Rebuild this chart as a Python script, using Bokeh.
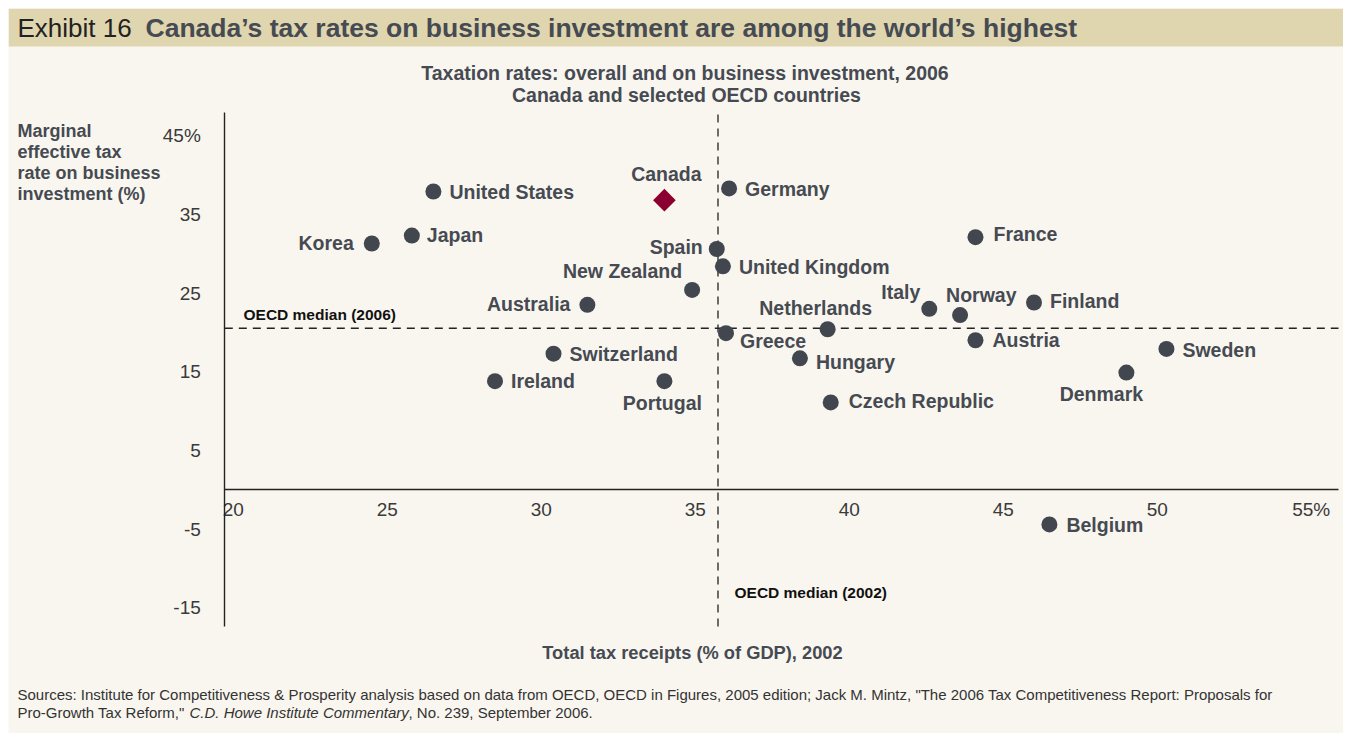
import numpy as np
from bokeh.plotting import figure
from bokeh.models import ColumnDataSource, Label, FixedTicker, Range1d, BoxAnnotation
from bokeh.embed import file_html
from bokeh.resources import INLINE
from bokeh.core.properties import value, field

# ---------------- data ----------------
countries = ["United States", "Germany", "Korea", "Japan", "Spain", "France",
             "United Kingdom", "New Zealand", "Australia", "Italy", "Norway",
             "Finland", "Netherlands", "Greece", "Austria", "Switzerland",
             "Sweden", "Hungary", "Ireland", "Portugal", "Denmark",
             "Czech Republic", "Belgium"]
tax_receipts_gdp = [26.5, 36.1, 24.5, 25.8, 35.7, 44.1,
                    35.9, 34.9, 31.5, 42.6, 43.6,
                    46.0, 39.3, 36.0, 44.1, 30.4,
                    50.3, 38.4, 28.5, 34.0, 49.0,
                    39.4, 46.5]
marginal_rate = [37.9, 38.3, 31.3, 32.3, 30.6, 32.1,
                 28.4, 25.4, 23.5, 23.0, 22.2,
                 23.8, 20.4, 19.9, 19.0, 17.3,
                 17.9, 16.7, 13.8, 13.8, 14.9,
                 11.1, -4.4]
canada_name = ["Canada"]
canada_receipts = [34.0]
canada_rate = [36.8]
oecd_median_2002 = 35.74
oecd_median_2006 = 20.53
x_ticks = [20, 25, 30, 35, 40, 45, 50, 55]
x_tick_labels = ["20", "25", "30", "35", "40", "45", "50", "55%"]
y_ticks = [-15, -5, 5, 15, 25, 35, 45]
y_tick_labels = ["-15", "-5", "5", "15", "25", "35", "45%"]

# ---------------- style ----------------
FONT_NAME = "Liberation Sans"
FONT = value(FONT_NAME)
BG = "#f9f6ef"
BAND = "#dfd5ae"
TXT = "#464a52"
DOT = "#42464e"
RED = "#8a0030"
AXIS = "#222222"

# label placement (align, dx px, dy px) relative to each point
placement = {
    "United States": ("left", 16, 0), "Germany": ("left", 16, 1),
    "Korea": ("right", -18, 0), "Japan": ("left", 15, -1),
    "Spain": ("right", -14, -2), "France": ("left", 18, -3),
    "United Kingdom": ("left", 16, 1), "New Zealand": ("right", -10, -19),
    "Australia": ("right", -17, -1), "Italy": ("right", -9, -17),
    "Norway": ("left", -14, -20), "Finland": ("left", 16, -1),
    "Netherlands": ("center", -12, -21), "Greece": ("left", 14, 8),
    "Austria": ("left", 17, 0), "Switzerland": ("left", 16, 0),
    "Sweden": ("left", 16, 1), "Hungary": ("left", 16, 4),
    "Ireland": ("left", 16, 0), "Portugal": ("center", -2, 22),
    "Denmark": ("center", -25, 21), "Czech Republic": ("left", 18, -1),
    "Belgium": ("left", 17, 1),
}

W = 1335
H = 725

# page-pixel -> data helpers (used only to place annotations / ranges)
def fx(px):
    return 25 + (px - 386.7) / 30.8

def fy(py):
    return (489.3 - py) / 7.87

X_LO, X_HI = fx(224.3), fx(1338)
Y_LO, Y_HI = fy(626), fy(112)

p = figure(width=W, height=H, x_range=Range1d(fx(8), fx(8 + W)),
           y_range=Range1d(fy(8 + H), fy(8)),
           toolbar_location=None, output_backend="svg", min_border=0,
           margin=(8, 8, 8, 8))
p.background_fill_color = BG
p.border_fill_color = BG
p.outline_line_color = None
p.grid.visible = False

# header band
p.add_layout(BoxAnnotation(left=fx(8), right=fx(8 + W), top=fy(8), bottom=fy(46),
                           fill_color=BAND, fill_alpha=1.0, line_color=None, level="underlay"))

for ax in (p.xaxis, p.yaxis):
    ax.major_tick_out = 0
    ax.major_tick_in = 0
    ax.minor_tick_out = 0
    ax.minor_tick_in = 0
    ax.axis_line_color = AXIS
    ax.axis_line_width = 1.4
    ax.major_label_text_font = FONT_NAME
    ax.major_label_text_font_size = "19px"
    ax.major_label_text_color = "#3a3a3a"

p.xaxis.ticker = FixedTicker(ticks=x_ticks)
p.xaxis.major_label_overrides = {t: l for t, l in zip(x_ticks, x_tick_labels)}
p.xaxis.fixed_location = 0
p.xaxis.bounds = (X_LO, X_HI)
p.xaxis.major_label_standoff = 9

p.yaxis.ticker = FixedTicker(ticks=y_ticks)
p.yaxis.major_label_overrides = {t: l for t, l in zip(y_ticks, y_tick_labels)}
p.yaxis.fixed_location = X_LO
p.yaxis.bounds = (Y_LO, Y_HI)
p.yaxis.major_label_standoff = 24

# median lines
p.segment(x0=[oecd_median_2002], y0=[Y_LO], x1=[oecd_median_2002], y1=[Y_HI],
          line_color=AXIS, line_width=1.3, line_dash="8 6")
p.segment(x0=[X_LO], y0=[oecd_median_2006], x1=[X_HI], y1=[oecd_median_2006],
          line_color=AXIS, line_width=1.3, line_dash="8 6")

# country points
src = ColumnDataSource(dict(
    x=tax_receipts_gdp, y=marginal_rate, name=countries,
    align=[placement[c][0] for c in countries],
    dx=[placement[c][1] for c in countries],
    dy=[placement[c][2] for c in countries],
))
p.scatter("x", "y", source=src, size=16, color=DOT, line_color=None)
p.text("x", "y", text="name", source=src, text_align=field("align"),
       x_offset=field("dx"), y_offset=field("dy"), text_baseline="middle",
       text_font=FONT, text_font_size="19.5px", text_font_style="bold", text_color=TXT)

csrc = ColumnDataSource(dict(x=canada_receipts, y=canada_rate, name=canada_name))
p.scatter("x", "y", source=csrc, marker="square", angle=np.pi / 4, size=16,
          color=RED, line_color=None)
p.text("x", "y", text="name", source=csrc, text_align="center", x_offset=2, y_offset=-26,
       text_baseline="middle", text_font=FONT, text_font_size="19.5px",
       text_font_style="bold", text_color=TXT)

def lab(px, py, text, size, style="bold", align="left", color=TXT):
    p.add_layout(Label(x=fx(px), y=fy(py), text=text, text_font=FONT_NAME, text_font_size=size,
                       text_font_style=style, text_align=align, text_baseline="middle",
                       text_color=color))

# header
lab(17, 27, "Exhibit 16", "26px", style="normal", color="#222222")
lab(145, 27, "Canada\u2019s tax rates on business investment are among the world\u2019s highest",
    "26.5px")
# subtitle
lab(684.5, 72, "Taxation rates: overall and on business investment, 2006", "19.5px", align="center")
lab(686, 94, "Canada and selected OECD countries", "19.5px", align="center")
# y-axis title
for i, t in enumerate(["Marginal", "effective tax", "rate on business", "investment (%)"]):
    lab(17, 130 + 21 * i, t, "18px")
# x-axis title
lab(692, 652, "Total tax receipts (% of GDP), 2002", "18.3px", align="center")
# median labels
lab(243, 314, "OECD median (2006)", "15.5px", color="#111111")
lab(734, 592, "OECD median (2002)", "15.5px", color="#111111")
# footnote
fn = "#333333"
lab(17, 694, "Sources: Institute for Competitiveness & Prosperity analysis based on data from OECD, "
             "OECD in Figures, 2005 edition; Jack M. Mintz, \"The 2006 Tax Competitiveness Report: Proposals for",
    "15px", style="normal", color=fn)
lab(17, 712, "Pro-Growth Tax Reform,\"", "15px", style="normal", color=fn)
lab(189, 712, "C.D. Howe Institute Commentary", "15px", style="italic", color=fn)
lab(408, 712, ", No. 239, September 2006.", "15px", style="normal", color=fn)

open("out.html", "w").write(file_html(p, INLINE))
